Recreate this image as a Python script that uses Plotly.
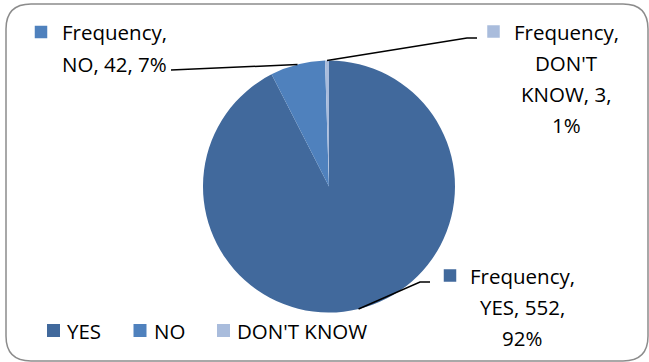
import math
import textwrap
import plotly.graph_objects as go

# Survey answers
categories = ["YES", "NO", "DON'T KNOW"]
frequency = [552, 42, 3]
series_name = "Frequency"
colors = ["#41699C", "#4F81BD", "#A9BCDC"]

W, H = 649, 362
FONT = dict(family="Open Sans, Liberation Sans, sans-serif", size=20.5, color="#000000")

# pie geometry in pixels
CX, CY, R = 329, 186.5, 126


def px(x):
    return x / W


def py(y):
    return 1 - y / H


total = sum(frequency)
percents = [round(v / total * 100) for v in frequency]

fig = go.Figure(
    go.Pie(
        labels=categories,
        values=frequency,
        sort=False,
        direction="clockwise",
        rotation=0,
        marker=dict(colors=colors, line=dict(width=0)),
        textinfo="none",
        hoverinfo="label+value+percent",
        showlegend=False,
        domain=dict(x=[px(CX - R), px(CX + R)], y=[py(CY + R), py(CY - R)]),
    )
)

shapes = []
annotations = []

# rounded chart frame
x0, y0, x1, y1, rc = 6, 4, 648, 361, 25
frame = (
    f"M {px(x0 + rc)},{py(y0)} L {px(x1 - rc)},{py(y0)} "
    f"Q {px(x1)},{py(y0)} {px(x1)},{py(y0 + rc)} "
    f"L {px(x1)},{py(y1 - rc)} Q {px(x1)},{py(y1)} {px(x1 - rc)},{py(y1)} "
    f"L {px(x0 + rc)},{py(y1)} Q {px(x0)},{py(y1)} {px(x0)},{py(y1 - rc)} "
    f"L {px(x0)},{py(y0 + rc)} Q {px(x0)},{py(y0)} {px(x0 + rc)},{py(y0)} Z"
)
shapes.append(dict(type="path", xref="paper", yref="paper", path=frame,
                   line=dict(color="#8C8C8C", width=1.5)))


def square(cx, cy, color, s=12.5):
    return dict(type="rect", xref="paper", yref="paper",
                x0=px(cx - s / 2), x1=px(cx + s / 2),
                y0=py(cy + s / 2), y1=py(cy - s / 2),
                fillcolor=color, line=dict(width=0))


# data label placement: text block centre, first line y, key square, leader elbow
label_layout = {
    "NO": dict(cx=114.5, y=32.5, key=(41, 32), leader=[(171, 70)]),
    "DON'T KNOW": dict(cx=566, y=32, key=(493.5, 31.5), leader=[(477, 38), (467, 38)]),
    "YES": dict(cx=522, y=276, key=(450, 275.5), leader=[(430, 282), (420, 282)]),
}
LINE_GAP = 31

start = 0.0
for cat, val, pct, col in zip(categories, frequency, percents, colors):
    span = val / total * 360
    mid = math.radians(start + span / 2)
    start += span
    edge = (CX + R * math.sin(mid), CY - R * math.cos(mid))

    spec = label_layout[cat]
    lines = textwrap.wrap(f"{series_name}, {cat}, {val}, {pct}%", 10)
    for i, line in enumerate(lines):
        annotations.append(dict(
            x=px(spec["cx"]), y=py(spec["y"] + i * LINE_GAP), xref="paper", yref="paper",
            text=line, showarrow=False, xanchor="center", yanchor="middle", font=FONT))
    shapes.append(square(*spec["key"], col))

    pts = spec["leader"] + [edge]
    path = "M " + " L ".join(f"{px(a)},{py(b)}" for a, b in pts)
    shapes.append(dict(type="path", xref="paper", yref="paper", path=path,
                       line=dict(color="#000000", width=1.5)))

# legend row
legend_keys = [53.5, 140, 223.5]
legend_text_x = [65, 152, 235]
LEG_Y = 330.5
for cat, col, kx, tx in zip(categories, colors, legend_keys, legend_text_x):
    shapes.append(square(kx, LEG_Y, col, s=13))
    annotations.append(dict(
        x=px(tx), y=py(LEG_Y), xref="paper", yref="paper", text=cat,
        showarrow=False, xanchor="left", yanchor="middle", font=FONT))

fig.update_layout(
    width=W, height=H, autosize=False,
    margin=dict(l=0, r=0, t=0, b=0),
    paper_bgcolor="white", plot_bgcolor="white",
    shapes=shapes, annotations=annotations,
)

fig.write_html("out.html")
